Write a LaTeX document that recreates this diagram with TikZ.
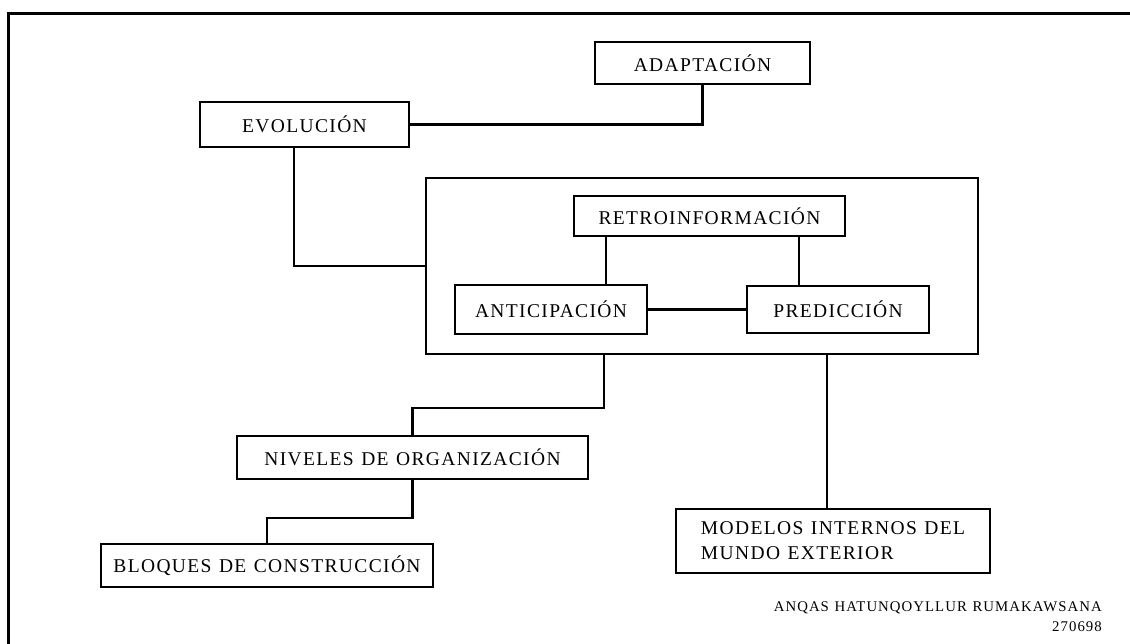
\documentclass[tikz,border=0pt]{standalone}
\usepackage{fontspec}
\setmainfont{Liberation Serif}[LetterSpace=7,WordSpace=1.2]

\begin{document}
\begin{tikzpicture}[
      x=1pt, y=-1pt,
      caja/.style={
         rectangle,
         draw=black,
         line width=2.6pt,
         inner sep=0pt,
         font=\fontsize{19.5}{25}\selectfont},
      linea/.style={line width=2.6pt},
      ]
\useasboundingbox (0,0) rectangle (1130,643);
\clip (0,0) rectangle (1130,643);
% marco exterior (solo arriba e izquierda)
\draw[line width=3pt] (8,700) -- (8,13) -- (1200,13);

\node[caja,minimum width=215pt,minimum height=42pt ] (adapt)   at (702.5,63)   {ADAPTACIÓN};
\node[caja,minimum width=209pt,minimum height=45pt ] (evol)    at (304.5,124.5) {EVOLUCIÓN};
\node[caja,minimum width=552pt,minimum height=176pt] (marco)   at (702,266)    {};
\node[caja,minimum width=271pt,minimum height=40pt ] (retro)   at (709.5,216)  {RETROINFORMACIÓN};
\node[caja,minimum width=192pt,minimum height=49pt ] (antic)   at (551,309.5)  {ANTICIPACIÓN};
\node[caja,minimum width=182pt,minimum height=47pt ] (predic)  at (838,309.5)  {PREDICCIÓN};
\node[caja,minimum width=351pt,minimum height=43pt ] (niveles) at (412.5,457.5) {NIVELES DE ORGANIZACIÓN};
\node[caja,minimum width=332pt,minimum height=43pt ] (bloques) at (267,565.5)  {BLOQUES DE CONSTRUCCIÓN};
\node[caja,minimum width=314pt,minimum height=64pt,align=left] (modelos) at (833,541)
      {MODELOS INTERNOS DEL\\MUNDO EXTERIOR};

\node[font=\fontsize{14.8}{20}\selectfont,align=right,anchor=east,inner sep=0pt] (autor)
      at (1102,617) {ANQAS HATUNQOYLLUR RUMAKAWSANA\\270698};

% puntos de quiebre
\coordinate (c1) at (606,0);
\coordinate (c2) at (799,0);
\coordinate (c3) at (604,408);
\coordinate (c4) at (266,518);
\coordinate (c5) at (827,0);
\coordinate (c6) at (294,0);

\draw[linea] (evol.east) -| (adapt.south);
\draw[linea] (evol.south -| c6) |- (marco.west);
\draw[linea] (retro.south -| c1) -- (antic.north -| c1);
\draw[linea] (retro.south -| c2) -- (predic.north -| c2);
\draw[linea] (antic) -- (predic);
\draw[linea] (marco.south -| c3) -- (c3) -| (niveles.north);
\draw[linea] (niveles.south) |- (c4) -| (bloques.north);
\draw[linea] (marco.south -| c5) -- (modelos.north -| c5);

\end{tikzpicture}
\end{document}
